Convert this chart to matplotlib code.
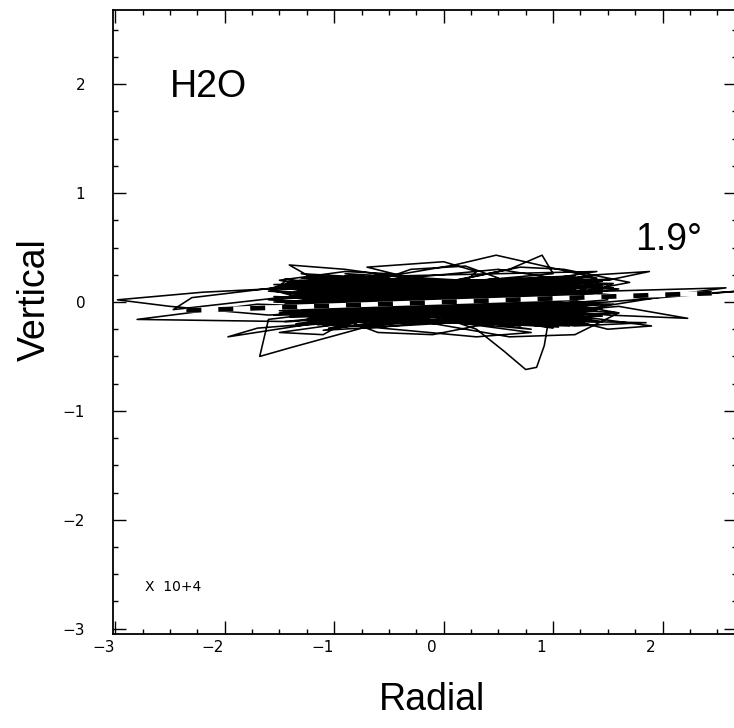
import matplotlib
matplotlib.use("Agg")
import matplotlib.pyplot as plt
from matplotlib import font_manager
from matplotlib.ticker import MultipleLocator
from matplotlib.transforms import ScaledTranslation

plt.rcParams['lines.scale_dashes'] = False

# particle motion trace (units of 10^4)
radial = [
    0.00, -1.20, -2.20, -2.98, -2.50, -1.60, 0.90, 1.30, 0.40, -1.31,
    -1.60, -1.00, 1.40, 1.50, -0.90, -1.20, 1.20, -1.50, -2.47, -2.30,
    -0.80, 1.00, 1.25, -1.40, 1.30, -1.10, 0.70, 0.90, -1.70, -2.80,
    -1.40, 1.60, -0.60, -1.00, 1.10, -1.30, 1.45, -1.00, 1.20, -1.60,
    0.50, 1.00, -1.20, -1.97, -1.70, 1.30, -0.90, 1.50, 1.88, 1.40,
    -1.10, 0.80, -1.40, 1.20, -0.70, 1.60, 2.23, 1.50, -1.30, 1.00,
    -1.50, 1.30, -0.80, 1.10, -1.20, -1.41, -0.90, 1.40, -1.00, 0.30,
    0.80, -1.30, 1.20, -1.10, 1.50, 2.58, 2.20, 1.20, -1.40, 1.00,
    -1.60, -1.68, -1.40, -0.60, 1.30, -1.20, 0.90, -1.00, 1.40, 0.48,
    0.10, -1.30, 1.10, -0.90, 1.60, -1.10, 1.20, -1.50, 0.90, -0.80,
    1.30, 1.85, 1.20, -1.20, 1.00, 0.90, 0.60, -1.40, 1.40, -1.00,
    0.30, 0.55, 0.75, 0.85, 0.92, 0.95, -1.30, 1.50, -0.70, 1.10,
    -1.60, 1.20, -1.20, 1.30, -0.90, 1.00, -1.40, 1.60, -1.10, 0.90,
    -1.30, 1.40, -0.80, 1.20, -1.50, 1.10, -1.00, 1.30, -1.20, 1.50,
    2.70, 1.80, -1.10, 1.00, -1.40, 1.20, -0.60, 1.40, -1.30, 0.80,
    -1.20, 1.10, -0.90, 1.50, -1.10,
    -1.35, 1.25, 1.45, -0.95, -1.25, 1.15, -1.45, -1.55, 1.05, 1.35,
    -0.85, -1.15, 1.55, 1.35, -1.05, -1.35, 0.95, -0.75, 1.25, -1.25,
    1.05, -1.45, 1.45, -0.95, 1.15, -1.15, 1.35, -1.55, 0.85, -0.65,
    1.25, -1.35, 1.05, -1.05, 1.45, -1.25, 1.15, -0.85, 1.35, -1.45,
    0.95, -1.15, 1.55, -1.35, 1.25, -0.95, 1.05, -1.55, 1.35, -1.05,
    1.15, -1.25, 1.45, -0.75, 0.95, -1.35, 1.25, -1.15, 1.55, -1.45,
    1.05, -0.95, 1.35, -1.25, 1.15, -1.05, 1.45, -1.55, 0.85, -1.15,
    1.25, -0.85, 1.05, -1.35, 1.55, -1.05, 1.15, -1.45, 1.35, -0.95,
    0.95, -1.25, 1.45, -1.15, 1.25, -1.35, 1.05, -0.85, 1.35, -1.55,
    1.15, -1.05, 1.45, -1.25, 0.95, -1.45, 1.25, -0.75, 1.05, -1.15,
    -1.00, -0.30, 0.20, 0.50, -1.20, -0.60, -0.10, 0.40, -1.50, -0.90,
    -0.50, 1.60, 1.20, 0.60, -0.20, 1.70, 1.10, 0.70, -0.40, -1.10,
    -1.50, 0.50, 1.50, 1.90, 1.00, -0.70, 0.00, 0.30,
    0.00,
]
vertical = [
    0.00, 0.14, 0.09, 0.02, -0.04, -0.12, 0.02, 0.12, 0.20, 0.20,
    0.12, -0.05, 0.10, 0.02, -0.18, -0.10, 0.16, 0.04, -0.07, 0.04,
    0.22, -0.16, -0.06, -0.14, 0.20, 0.10, -0.22, -0.12, -0.02, -0.16,
    -0.18, 0.06, 0.25, 0.16, -0.20, -0.06, 0.14, 0.03, -0.10, 0.10,
    0.30, 0.22, -0.20, -0.32, -0.24, 0.00, 0.18, 0.20, 0.28, 0.25,
    -0.08, -0.25, 0.06, 0.12, -0.24, -0.04, -0.15, -0.12, 0.16, 0.04,
    -0.10, 0.18, 0.08, -0.14, 0.22, 0.34, 0.30, -0.02, -0.20, -0.32,
    -0.28, 0.00, 0.24, 0.14, 0.10, 0.13, 0.08, -0.08, -0.04, 0.16,
    -0.16, -0.50, -0.42, -0.20, 0.08, 0.18, -0.20, -0.14, 0.22, 0.43,
    0.34, 0.10, -0.04, 0.26, 0.12, -0.22, 0.02, 0.14, 0.18, -0.10,
    -0.18, -0.19, -0.22, 0.06, 0.26, 0.43, 0.30, -0.12, 0.04, 0.20,
    -0.25, -0.45, -0.62, -0.60, -0.40, -0.22, -0.02, 0.16, 0.12, -0.12,
    0.02, 0.20, -0.16, -0.06, 0.24, 0.10, 0.08, -0.10, -0.26, 0.06,
    0.22, 0.28, -0.06, -0.16, -0.08, 0.14, 0.04, 0.10, -0.12, 0.00,
    0.10, 0.04, 0.16, -0.24, 0.12, 0.08, -0.16, -0.08, 0.26, 0.14,
    -0.18, 0.18, -0.02, 0.06, 0.08,
    0.18, 0.21, 0.12, -0.20, -0.13, 0.05, 0.19, 0.10, -0.21, -0.15,
    0.15, 0.22, 0.17, 0.08, -0.17, -0.22, -0.02, 0.20, 0.13, -0.08,
    -0.19, -0.02, 0.19, 0.12, -0.22, -0.15, 0.05, 0.16, 0.21, -0.21,
    -0.11, 0.07, 0.17, 0.19, -0.13, -0.19, 0.11, -0.05, 0.23, 0.13,
    -0.16, 0.02, -0.02, -0.20, 0.16, 0.21, -0.09, -0.12, 0.15, 0.06,
    -0.19, 0.24, 0.09, -0.22, 0.19, -0.01, -0.20, 0.17, 0.13, -0.18,
    0.03, -0.12, -0.17, 0.15, 0.22, -0.24, -0.06, 0.05, -0.13, 0.20,
    0.07, 0.11, -0.23, -0.11, 0.21, 0.13, -0.07, 0.21, -0.21, -0.17,
    0.12, 0.01, 0.16, -0.21, -0.03, 0.12, 0.20, -0.14, -0.11, 0.00,
    0.14, 0.23, -0.18, -0.16, 0.08, 0.09, 0.19, 0.04, -0.14, -0.07,
    0.05, 0.30, 0.33, 0.22, -0.05, -0.28, -0.30, -0.20, 0.20, 0.28,
    0.26, -0.10, -0.30, -0.32, -0.18, 0.18, 0.30, 0.32, 0.10, -0.30,
    -0.28, 0.00, -0.25, -0.22, -0.10, 0.32, 0.37, 0.28,
    0.00,
]

# polarization direction, 1.9 degrees
axis_x = [-2.35, 2.45]
axis_y = [-0.078, 0.081]

installed = {f.name for f in font_manager.fontManager.ttflist}
narrow = ['Liberation Sans Narrow', 'DejaVu Sans'] if 'Liberation Sans Narrow' in installed else ['DejaVu Sans']

fig = plt.figure(figsize=(7.34, 7.28), dpi=100)
ax = fig.add_axes([0.154, 0.129, 0.85, 0.857])

ax.plot(radial, vertical, color='black', lw=1.15, solid_joinstyle='round')
ax.plot(axis_x, axis_y, color='white', lw=3.4, solid_capstyle='butt')
ax.plot(axis_x, axis_y, color='black', lw=3.4, dashes=(10.8, 12.2), dash_capstyle='butt')

ax.set_xlim(-3.02, 2.68)
ax.set_ylim(-3.05, 2.68)

ax.xaxis.set_major_locator(MultipleLocator(1))
ax.xaxis.set_minor_locator(MultipleLocator(0.25))
ax.yaxis.set_major_locator(MultipleLocator(1))
ax.yaxis.set_minor_locator(MultipleLocator(0.25))
ax.tick_params(which='both', direction='in', top=True, right=True, width=1)
ax.tick_params(which='major', length=9.5)
ax.tick_params(which='minor', length=3.6)
ax.tick_params(axis='x', pad=4)
ax.tick_params(axis='y', pad=20)
for s in ax.spines.values():
    s.set_linewidth(1.3)

for lab in ax.get_xticklabels() + ax.get_yticklabels():
    lab.set_family(narrow)
    lab.set_fontsize(11)
for lab in ax.get_xticklabels():
    lab.set_transform(lab.get_transform() + ScaledTranslation(-0.12, 0, fig.dpi_scale_trans))

ax.text(-2.5, 1.88, 'H2O', fontsize=27, family='Liberation Sans')
ax.text(1.75, 0.48, '1.9°', fontsize=27, family='Liberation Sans')
ax.text(-2.73, -2.62, 'X  10+4', fontsize=10, family=narrow, va='center')

fig.text(35 / 734, 1 - 300 / 728, 'Vertical', rotation=90, fontsize=27,
         family='Liberation Sans', ha='center', va='center')
fig.text(432 / 734, 1 - 700 / 728, 'Radial', fontsize=27,
         family='Liberation Sans', ha='center', va='center')

plt.savefig('out.png', dpi=100)
